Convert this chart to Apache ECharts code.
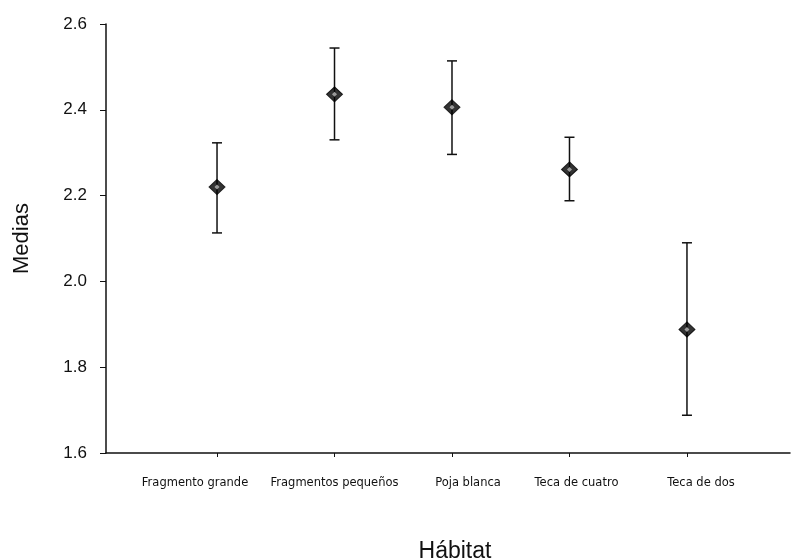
<!DOCTYPE html>
<html><head><meta charset="utf-8">
<script src="https://cdn.jsdelivr.net/npm/echarts@6/dist/echarts.min.js"></script>
<style>html,body{margin:0;padding:0;background:#fff}#c{width:792px;height:560px}</style>
</head><body><div id="c"></div>
<script>
const categories = ['Fragmento grande','Fragmentos pequeños','Poja blanca','Teca de cuatro','Teca de dos'];
const means = [2.22, 2.436, 2.406, 2.261, 1.888];
const upper = [2.323, 2.544, 2.514, 2.336, 2.090];
const lower = [2.113, 2.330, 2.296, 2.188, 1.688];
const yTicks = [1.6, 1.8, 2.0, 2.2, 2.4, 2.6];

// horizontal nudges of the category labels (px), as in the scanned original
const labelShift = [-22, 0, 16, 7, 14];
const rich = {};
labelShift.forEach((s,i)=>{
  rich['c'+i] = {fontFamily:'DejaVu Sans', fontSize:11.5, color:'#111',
    padding: s>=0 ? [0,0,0,2*s] : [0,-2*s,0,0]};
});

const chart = echarts.init(document.getElementById('c'));
const pos = categories.map((c,i)=>i+1);
chart.setOption({
  animation:false,
  backgroundColor:'#fff',
  grid:{left:106, right:2, top:24, bottom:107, outerBoundsMode:'none'},
  xAxis:{
    type:'value', min:0.055, max:5.877,
    name:'Hábitat', nameLocation:'middle', nameGap:87,
    nameTextStyle:{fontFamily:'Liberation Sans', fontSize:23, color:'#111', padding:[0,0,0,14]},
    axisLine:{lineStyle:{color:'#111', width:1.5}},
    axisTick:{show:true, customValues:pos, length:4, inside:false, lineStyle:{color:'#111'}},
    axisLabel:{customValues:pos, formatter:v=>{const i=Math.round(v)-1; return categories[i]?('{c'+i+'|'+categories[i]+'}'):'';},
      rich:rich, margin:24},
    splitLine:{show:false}
  },
  yAxis:{
    type:'value', min:1.6, max:2.6, interval:0.2,
    name:'Medias', nameLocation:'middle', nameGap:73, nameRotate:90,
    nameTextStyle:{fontFamily:'Liberation Sans', fontSize:22, color:'#111'},
    axisLine:{show:true, lineStyle:{color:'#111', width:1.5}},
    axisTick:{show:true, length:6, lineStyle:{color:'#111'}},
    axisLabel:{formatter:v=>v.toFixed(1), fontFamily:'Liberation Sans', fontSize:17, color:'#111', margin:19},
    splitLine:{show:false}
  },
  series:[
    {
      type:'custom',
      data: pos.map((p,i)=>[p, lower[i], upper[i]]),
      renderItem:(params, api)=>{
        const lo = api.coord([api.value(0), api.value(1)]);
        const hi = api.coord([api.value(0), api.value(2)]);
        const w = 5;
        const st = {stroke:'#111', lineWidth:1.5};
        return {type:'group', children:[
          {type:'line', shape:{x1:lo[0], y1:lo[1], x2:hi[0], y2:hi[1]}, style:st},
          {type:'line', shape:{x1:lo[0]-w, y1:lo[1], x2:lo[0]+w, y2:lo[1]}, style:st},
          {type:'line', shape:{x1:hi[0]-w, y1:hi[1], x2:hi[0]+w, y2:hi[1]}, style:st}
        ]};
      },
      z:2
    },
    {
      type:'scatter',
      data: pos.map((p,i)=>[p, means[i]]),
      symbol:'diamond', symbolSize:[16,15],
      itemStyle:{color:'#000', borderColor:'#000', borderWidth:1},
      z:3
    },
    {
      type:'scatter',
      data: pos.map((p,i)=>[p, means[i]]),
      symbol:'diamond', symbolSize:[5,5],
      itemStyle:{color:'#bbb'},
      silent:true,
      z:4
    }
  ]
});
</script></body></html>
